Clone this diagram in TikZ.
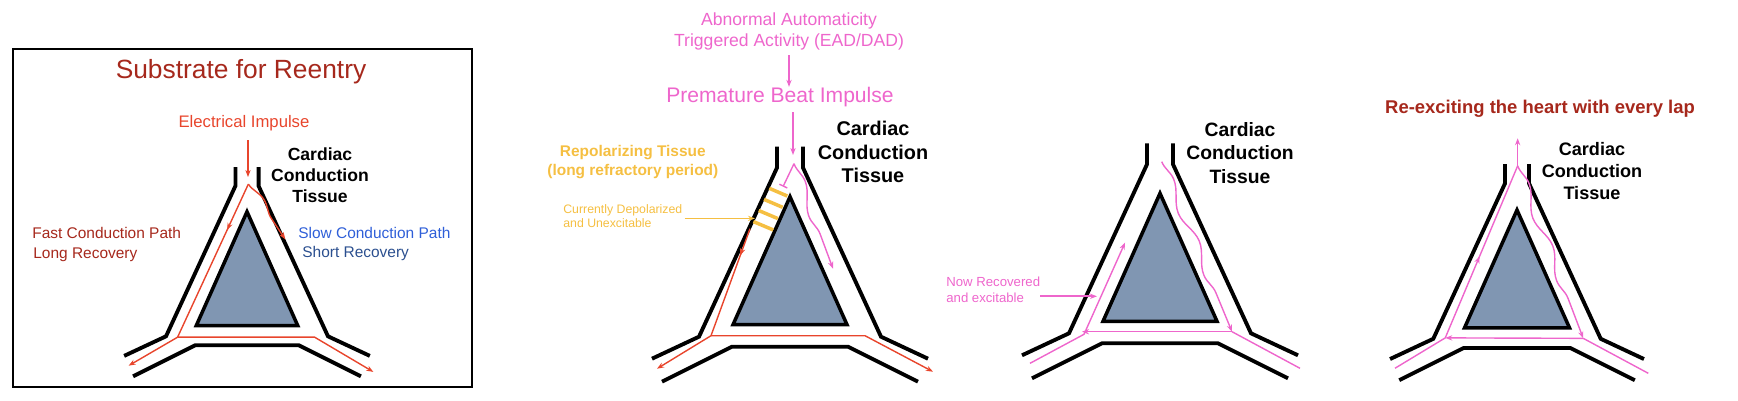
\documentclass[tikz,border=0pt]{standalone}
\usepackage{fontspec}
\setmainfont{Liberation Sans}
\usetikzlibrary{
    arrows.meta,
    decorations.pathmorphing,
    decorations.markings
}
\definecolor{impred}{HTML}{E8452C}
\definecolor{darkred}{HTML}{A6281C}
\definecolor{slowblue}{HTML}{2F5FD8}
\definecolor{navy}{HTML}{2B4F8F}
\definecolor{beatpink}{HTML}{EE66CC}
\definecolor{repolyellow}{HTML}{F5BF42}
\definecolor{core}{HTML}{8096B2}
\tikzset{
    wall/.style={line width=2.2pt, line join=miter},
    core/.style={line width=2pt, fill=core},
    wave/.style={decorate, decoration={snake, amplitude=2.5, segment length=38, post length=6}},
    tip/.style={-{Stealth[length=4pt,width=3pt]}},
    midarrow/.style={postaction={decorate},
        decoration={markings, mark=at position #1 with {\arrow{Stealth[length=4pt,width=3pt]}}}},
    lbl/.style={inner sep=0pt, align=center},
    tissue/.style={lbl, font=\fontsize{#1}{1.2\dimexpr#1pt\relax}\selectfont\bfseries},
    sz/.style={font=\fontsize{#1}{1.2\dimexpr#1pt\relax}\selectfont}
}
% conduction channel around the core
\newcommand\channel{
    \draw[wall] (-13,-50) -- (-13,-29) -- (-91,140) -- (-138,162);
    \draw[wall] ( 13,-50) -- ( 13,-29) -- ( 91,140) -- ( 138,162);
    \draw[wall] (-128,185) -- (-58,150) -- (58,150) -- (128,185);
    \draw[core] (0,0) -- (-57,128) -- (57,128) -- cycle;
}
\begin{document}
\begin{tikzpicture}[x=0.02cm, y=-0.02cm]
    \useasboundingbox (0,0) rectangle (1738,400);

    % panel 1
    \draw[line width=1pt] (13,49) rectangle (472,387);
    \node[lbl, sz=15, text=darkred] (title1) at (241,72) {Substrate for Reentry};
    \node[lbl, sz=9.5, text=impred] (imp1) at (244,123) {Electrical Impulse};
    \node[tissue=10] (cct1) at (320,175) {Cardiac\\Conduction\\Tissue};
    \node[lbl, sz=8.8, text=darkred, anchor=west] (fast) at (32,233) {Fast Conduction Path};
    \node[lbl, sz=8.8, text=darkred, anchor=west] (long) at (33,255) {Long Recovery};
    \node[lbl, sz=8.8, text=slowblue, anchor=west] (slow) at (298,233) {Slow Conduction Path};
    \node[lbl, sz=8.8, text=navy, anchor=west] (short) at (302,253) {Short Recovery};
    \begin{scope}[shift={(247,211.7)}, scale=0.89]
        \channel
        \coordinate (p1top) at (1.5,-31);
        \coordinate (p1bl) at (-78,141);
        \coordinate (p1br) at (76,141);
        \draw[impred, line width=0.8pt, midarrow=0.3] (p1top) -- (p1bl);
        \draw[impred, line width=0.8pt, tip] (p1bl) -- (-133,173);
        \draw[impred, line width=0.8pt, tip] (p1bl) -- (p1br) -- (142,180);
        \draw[impred, line width=0.8pt, tip, wave] (p1top) -- (43,31);
    \end{scope}
    \coordinate (imp1end) at (248,177);
    \draw[impred, line width=0.8pt, tip] (imp1) ++(4,17) -- (imp1end);

    % panel 2
    \node[lbl, sz=10, text=beatpink] (abn) at (789,31) {Abnormal Automaticity\\Triggered Activity (EAD/DAD)};
    \node[lbl, sz=12, text=beatpink] (beat) at (780,97) {Premature Beat Impulse};
    \node[tissue=11.3] (cct2) at (873,152) {Cardiac\\Conduction\\Tissue};
    \node[tissue=8.8, text=repolyellow, anchor=west] (repol) at (547,162) {Repolarizing Tissue\\(long refractory period)};
    \node[lbl, sz=7, text=repolyellow, anchor=west, align=left] (depol) at (563,216) {Currently Depolarized\\and Unexcitable};
    \draw[beatpink, line width=1pt, tip] (abn) ++(0,24) -- (beat.north -| abn);
    \begin{scope}[shift={(790,196.7)}]
        \channel
        \foreach \k in {0,...,3}
            \draw[repolyellow, line width=2pt] (-20.7-5.3*\k,-8.4+11.1*\k) -- (-2.7-4.7*\k,-0.7+11.3*\k);
        \coordinate (p2top) at (4,-33);
        \coordinate (p2red) at (-40,32);
        \coordinate (p2bl) at (-79,139);
        \coordinate (p2br) at (75,139);
        \coordinate (bars) at (-35,21.7);
        \draw[impred, line width=0.8pt, midarrow=0.25] (p2red) -- (p2bl);
        \draw[impred, line width=0.8pt, tip] (p2bl) -- (-133,172);
        \draw[impred, line width=0.8pt, tip] (p2bl) -- (p2br) -- (143,175);
        \draw[beatpink, line width=0.8pt, -{Bar[width=5pt]}] (p2top) -- (-7,-10);
        \draw[beatpink, line width=0.8pt, tip, wave] (p2top) -- (43,72);
    \end{scope}
    \draw[beatpink, line width=1pt, tip] (beat.south -| 793,0) ++(0,5) -- (793,155);
    \draw[repolyellow, line width=1pt, tip] (depol.east |- bars) ++(2,0) -- (bars);

    % panel 3
    \node[tissue=11] (cct3) at (1240,153) {Cardiac\\Conduction\\Tissue};
    \node[lbl, sz=7.5, text=beatpink, anchor=west, align=left] (recov) at (946,290) {Now Recovered\\and excitable};
    \begin{scope}[shift={(1160,193.3)}]
        \channel
        \coordinate (p3top) at (1.7,-31.6);
        \coordinate (p3br) at (72,138.4);
        \coordinate (p3bl) at (-78,138.4);
        \coordinate (p3up) at (-35,49.4);
        \coordinate (p3mid) at (-63,103);
        \draw[beatpink, line width=0.8pt, tip, wave] (p3top) -- (p3br);
        \draw[beatpink, line width=0.8pt] (p3br) -- (140,175);
        \draw[beatpink, line width=0.8pt, tip] (p3br) -- (p3bl);
        \draw[beatpink, line width=0.8pt, tip] (-130,170) -- (-76,141) -- (p3up);
    \end{scope}
    \draw[beatpink, line width=1pt, tip] (recov.east |- p3mid) -- (p3mid);

    % panel 4
    \node[tissue=10.5, text=darkred] (title4) at (1540,109) {Re-exciting the heart with every lap};
    \node[tissue=10.3] (cct4) at (1592,171) {Cardiac\\Conduction\\Tissue};
    \begin{scope}[shift={(1517,210)}, scale=0.92]
        \channel
        \coordinate (p4apex) at (0.7,-48);
        \coordinate (p4out) at (0.7,-78);
        \coordinate (p4br) at (72,139.5);
        \coordinate (p4bl) at (-78,139);
        \draw[beatpink, line width=0.8pt, midarrow=0.6] (-132.6,172) -- (p4bl) -- (p4apex);
        \draw[beatpink, line width=0.8pt, tip] (p4apex) -- (p4out);
        \draw[beatpink, line width=0.8pt, tip, wave] (p4apex) -- (p4br);
        \draw[beatpink, line width=0.8pt] (p4br) -- (142.7,177.5);
        \draw[beatpink, line width=0.8pt, tip] (p4br) -- (p4bl);
    \end{scope}
\end{tikzpicture}
\end{document}
